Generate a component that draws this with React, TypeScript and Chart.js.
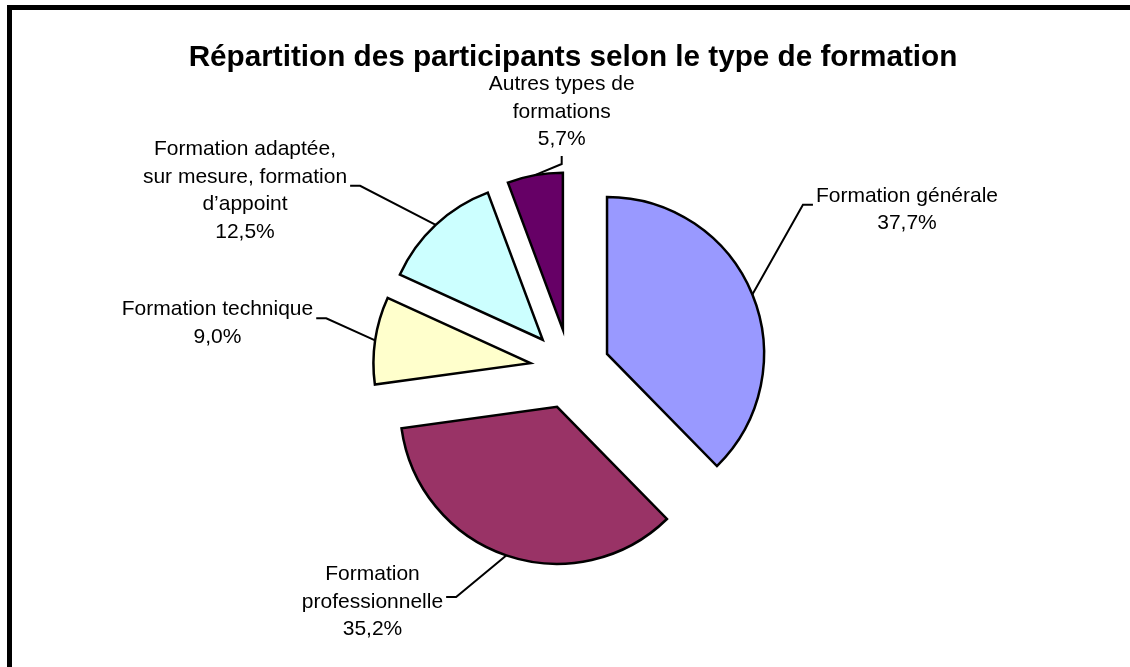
import React, { useEffect, useRef } from "react";
import { Chart, registerables } from "chart.js";

Chart.register(...registerables);

const TITLE = "Répartition des participants selon le type de formation";
const categories = [
  "Formation générale",
  "Formation professionnelle",
  "Formation technique",
  "Formation adaptée, sur mesure, formation d’appoint",
  "Autres types de formations",
];
const labelLines = [
  ["Formation générale"],
  ["Formation", "professionnelle"],
  ["Formation technique"],
  ["Formation adaptée,", "sur mesure, formation", "d’appoint"],
  ["Autres types de", "formations"],
];
const values = [37.7, 35.2, 9.0, 12.5, 5.7];

// styles
const colors = ["#9999FF", "#993366", "#FFFFCC", "#CCFFFF", "#660066"];
const EXPLODE = 160; // Chart.js offset (drawn translation = offset / 4)
const RADIUS = 157;
const labelPlacement = [
  { dx: 337, dy: -167.5, side: "left" },
  { dx: -197.5, dy: 211, side: "right" },
  { dx: -352.5, dy: -54, side: "right" },
  { dx: -325, dy: -214, side: "right" },
  { dx: -8.3, dy: -279, side: "bottom" },
];

const FONT = '"Liberation Sans", Arial, Helvetica, sans-serif';
const LINE_H = 27.5;

const pct = (v: number) => v.toFixed(1).replace(".", ",") + "%";

// Chart.js grows an exploded arc's radius by offset/4 * (1 - sin(circumference))
// and trims its angles slightly; compensate so every exploded slice keeps the
// same radius and its exact angular span (as in Excel).
const equalRadiusPlugin = {
  id: "equalRadius",
  afterDatasetUpdate(chart: any, args: any) {
    const meta = chart.getDatasetMeta(args.index);
    meta.data.forEach((arc: any) => {
      const off = (arc.options.offset || 0) / 4;
      const fix = 1 - Math.sin(Math.min(Math.PI, arc.circumference));
      const grow = off * fix;
      arc.outerRadius = RADIUS - grow;
      const trim = grow / Math.PI / RADIUS / 2;
      arc.startAngle -= trim;
      arc.endAngle += trim;
    });
  },
};

const decorPlugin = {
  id: "decor",
  beforeDraw(chart: any) {
    const ctx = chart.ctx;
    ctx.save();
    ctx.fillStyle = "#ffffff";
    ctx.fillRect(0, 0, chart.width, chart.height);
    ctx.fillStyle = "#000000";
    ctx.fillRect(7, 5, chart.width - 7, 5);
    ctx.fillRect(7, 5, 5, chart.height - 5);
    ctx.font = `bold 29.7px ${FONT}`;
    ctx.textAlign = "center";
    ctx.textBaseline = "alphabetic";
    ctx.fillText(TITLE, 573, 66);
    ctx.restore();
  },
  afterDatasetsDraw(chart: any) {
    const meta = chart.getDatasetMeta(0);
    const ctx = chart.ctx;
    ctx.save();
    ctx.font = `21px ${FONT}`;
    ctx.fillStyle = "#000000";
    ctx.strokeStyle = "#000000";
    ctx.lineWidth = 2;
    ctx.lineJoin = "miter";
    ctx.textBaseline = "alphabetic";
    meta.data.forEach((arc: any, i: number) => {
      const { x, y, startAngle, endAngle, outerRadius, circumference } = arc;
      const off = (arc.options.offset || 0) / 4;
      const h = (startAngle + endAngle) / 2;
      const fix = 1 - Math.sin(Math.min(Math.PI, circumference));
      const r = outerRadius + off * fix;
      const vx = x + Math.cos(h) * off;
      const vy = y + Math.sin(h) * off;
      const ax = vx + Math.cos(h) * r;
      const ay = vy + Math.sin(h) * r;
      const lines = [...labelLines[i], pct(values[i])];
      const p = labelPlacement[i];
      const cx = x + p.dx;
      const base = y + p.dy;
      const maxW = Math.max(...lines.map((l) => ctx.measureText(l).width));
      const last = base + (lines.length - 1) * LINE_H;
      let tx = 0, ty = 0, ex = 0, ey = 0;
      if (p.side === "left") {
        tx = cx - maxW / 2 - 3;
        ty = (base - 15 + last) / 2 - 3;
        ex = tx - 10;
        ey = ty;
      } else if (p.side === "right") {
        tx = cx + maxW / 2 + 3;
        ty = (base - 15 + last) / 2 - 3;
        ex = tx + 10;
        ey = ty;
      } else {
        tx = cx;
        ty = last + 11;
        ex = tx;
        ey = ty + 8;
      }
      ctx.beginPath();
      ctx.moveTo(ax, ay);
      ctx.lineTo(ex, ey);
      ctx.lineTo(tx, ty);
      ctx.stroke();
      ctx.textAlign = "center";
      lines.forEach((l, k) => ctx.fillText(l, cx, base + k * LINE_H));
    });
    ctx.restore();
  },
};

export default function App() {
  const canvasRef = useRef<HTMLCanvasElement | null>(null);

  useEffect(() => {
    document.body.style.margin = "0";
    document.body.style.overflow = "hidden";
    const canvas = canvasRef.current;
    if (!canvas) return;
    const chart = new Chart(canvas, {
      type: "pie",
      data: {
        labels: categories,
        datasets: [
          {
            data: values,
            backgroundColor: colors,
            borderColor: "#000000",
            borderWidth: 2.5,
            borderJoinStyle: "miter",
            offset: EXPLODE,
            hoverOffset: 0,
            radius: RADIUS,
          } as any,
        ],
      },
      options: {
        responsive: false,
        animation: false,
        devicePixelRatio: 1,
        events: [],
        layout: { padding: { left: 10, right: 0, top: 71, bottom: 0 } },
        plugins: {
          legend: { display: false },
          title: { display: false },
          tooltip: { enabled: false },
        },
      } as any,
      plugins: [equalRadiusPlugin, decorPlugin],
    });
    return () => chart.destroy();
  }, []);

  return (
    <div style={{ width: 1130, height: 667, overflow: "hidden" }}>
      <canvas ref={canvasRef} width={1130} height={667} style={{ display: "block" }} />
    </div>
  );
}
